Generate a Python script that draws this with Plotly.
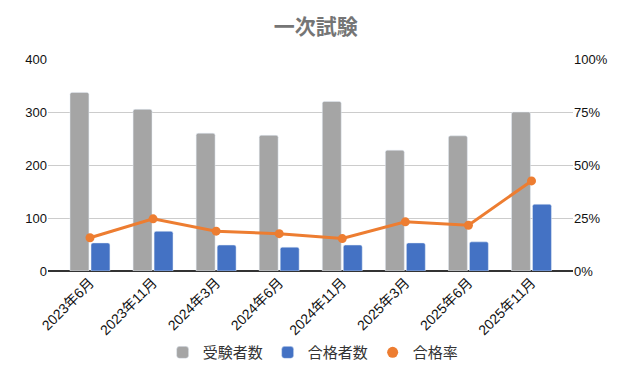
import plotly.graph_objects as go

categories = ["2023年6月", "2023年11月", "2024年3月", "2024年6月", "2024年11月", "2025年3月", "2025年6月", "2025年11月"]
examinees = [337, 305, 260, 256, 320, 228, 255, 300]
passers = [53, 75, 49, 45, 49, 53, 55, 126]
pass_rate = [0.157, 0.246, 0.188, 0.176, 0.153, 0.232, 0.216, 0.425]

FONT = "Liberation Sans, Noto Sans CJK JP, sans-serif"
ORANGE = "#ED7D31"

# page body has an 8px margin: figure is sized/margined to compensate
W, H = 623, 373

fig = go.Figure()
fig.add_trace(go.Bar(
    x=categories, y=examinees, name="受験者数",
    marker=dict(color="#A5A5A5"), width=0.30, offset=-0.317,
))
fig.add_trace(go.Bar(
    x=categories, y=passers, name="合格者数",
    marker=dict(color="#4472C4"), width=0.30, offset=0.016,
))
fig.add_trace(go.Scatter(
    x=categories, y=pass_rate, name="合格率", yaxis="y2",
    mode="lines+markers", showlegend=False,
    line=dict(color=ORANGE, width=3),
    marker=dict(color=ORANGE, size=9),
))
# legend entry for the rate series (marker only, as in the reference legend)
fig.add_trace(go.Scatter(
    x=[None], y=[None], name="合格率", yaxis="y2", mode="markers",
    marker=dict(color=ORANGE, size=11, symbol="circle"),
))

fig.update_layout(
    width=W, height=H,
    margin=dict(l=40, r=58, t=51, b=110, autoexpand=False),
    paper_bgcolor="white", plot_bgcolor="white",
    font=dict(family=FONT, size=13, color="#222222"),
    title=dict(text="<b>一次試験</b>", x=0.494, xanchor="center", y=1 - 19 / H, yanchor="middle",
               font=dict(family="Noto Sans CJK JP", size=21, color="#757575")),
    barmode="overlay",
    barcornerradius=2,
    showlegend=True,
    legend=dict(orientation="h", x=0.505, xanchor="center", y=-0.385, yanchor="middle",
                font=dict(family="Noto Sans CJK JP", size=15, color="#333333"),
                itemwidth=30, traceorder="normal"),
    xaxis=dict(
        type="category", range=[-0.666, 7.658], tickangle=-45, automargin=False,
        showgrid=False, showline=False, ticks="",
        tickfont=dict(family=FONT, size=14, color="#111111"),
    ),
    yaxis=dict(
        range=[0, 400], tickvals=[0, 100, 200, 300, 400], automargin=False,
        gridcolor="#CCCCCC", gridwidth=1, zeroline=True, zerolinecolor="#333333", zerolinewidth=1.5,
        showline=False, ticks="", tickfont=dict(size=13, color="#111111"),
    ),
    yaxis2=dict(
        overlaying="y", side="right", range=[0, 1], automargin=False,
        tickvals=[0, 0.25, 0.5, 0.75, 1.0], ticktext=["0%", "25%", "50%", "75%", "100%"],
        showgrid=False, zeroline=False, showline=False, ticks="",
        tickfont=dict(size=13, color="#111111"),
    ),
)

fig.write_html("out.html")
